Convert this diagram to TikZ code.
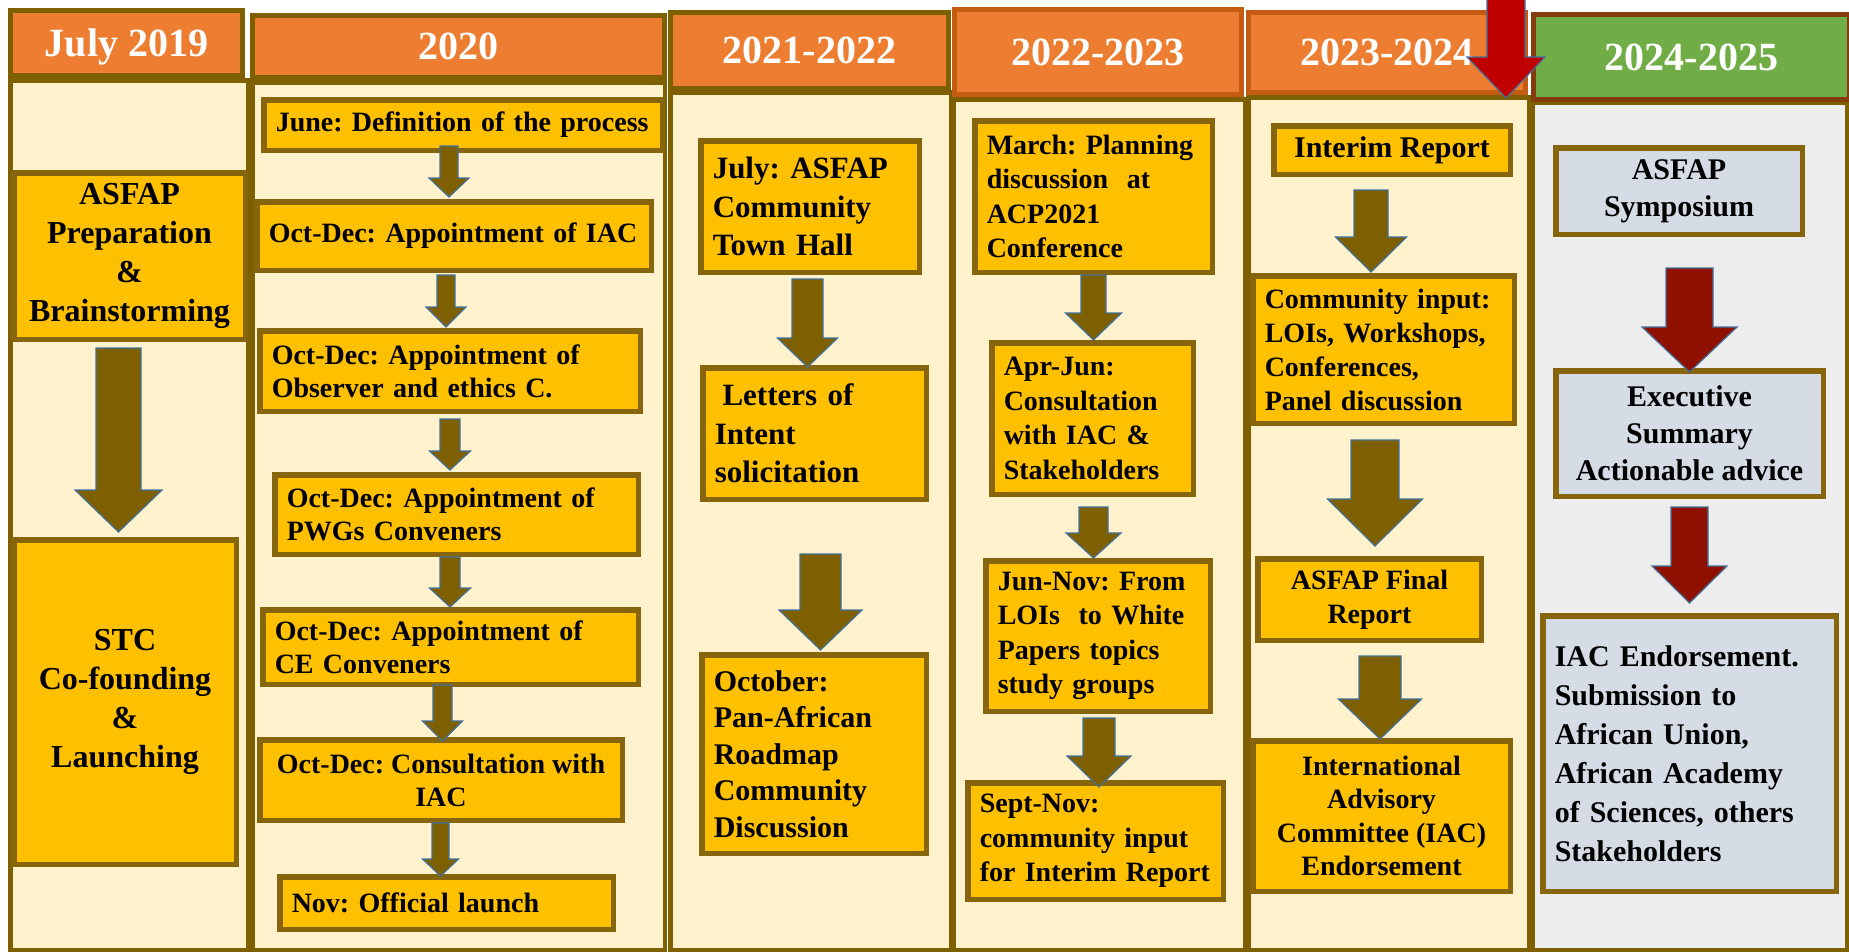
\documentclass[tikz,border=0pt]{standalone}
\usepackage{fontspec}
\setmainfont{Liberation Serif}
\frenchspacing

\definecolor{hdrorange}{HTML}{ED7D31}
\definecolor{hdrgreen}{HTML}{70AD47}
\definecolor{colcream}{HTML}{FFF2CC}
\definecolor{colgray}{HTML}{EDEDED}
\definecolor{boxgold}{HTML}{FFC000}
\definecolor{boxblue}{HTML}{D6DCE5}
\definecolor{frameolive}{HTML}{7F6000}
\definecolor{boxline}{HTML}{86650C}
\definecolor{orangeline}{HTML}{C55A11}
\definecolor{brownline}{HTML}{843C0C}
\definecolor{arrowblue}{HTML}{41719C}
\definecolor{redtop}{HTML}{C00000}
\definecolor{reddark}{HTML}{901000}

\newcommand{\blockarrow}[7]{\filldraw[#1] (#2-#6,#3) -- (#2+#6,#3) -- (#2+#6,#4) -- (#2+#7,#4) -- (#2,#5) -- (#2-#7,#4) -- (#2-#6,#4) -- cycle;}

\begin{document}
\begin{tikzpicture}[x=1pt, y=-1pt,
	col/.style={draw=frameolive, line width=4.5pt, fill=colcream, inner sep=0pt},
	hdr/.style={draw=frameolive, line width=5pt, fill=hdrorange, text=white, inner sep=0pt, text depth=0pt, font=\fontsize{40}{48}\selectfont\bfseries},
	box/.style={draw=boxline, line width=5.5pt, fill=boxgold, inner xsep=12pt, inner ysep=2pt},
	lbox/.style={box, align=left},
	cbox/.style={box, align=center},
	fs/.style 2 args={font=\fontsize{#1}{#2}\selectfont\bfseries},
	arr/.style={fill=frameolive, draw=arrowblue, line width=1.2pt}]
	\useasboundingbox (0,0) rectangle (1849,951);
	\fill[white] (0,0) rectangle (1849,951);

	\node[col, minimum width=237.5pt, minimum height=869.5pt] (b1) at (129,515) {};
	\node[col, minimum width=412.5pt, minimum height=867.5pt] (b2) at (458.5,516) {};
	\node[col, minimum width=280.5pt, minimum height=857.5pt] (b3) at (810.5,521) {};
	\node[col, minimum width=291.5pt, minimum height=850.5pt] (b4) at (1099,524.5) {};
	\node[col, minimum width=280.5pt, minimum height=852.5pt] (b5) at (1388.5,523.5) {};
	\node[col, fill=colgray, minimum width=314.5pt, minimum height=847.5pt] (b6) at (1689.5,526) {};

	\node[hdr, minimum width=232pt, minimum height=65pt] (h1) at (126.5,43) {July 2019};
	\node[hdr, minimum width=412pt, minimum height=62pt] (h2) at (458.5,46.5) {2020};
	\node[hdr, minimum width=278pt, minimum height=76pt] (h3) at (809.5,50.5) {2021-2022};
	\node[hdr, draw=orangeline, minimum width=287pt, minimum height=85pt] (h4) at (1098,52) {2022-2023};
	\node[hdr, draw=orangeline, minimum width=277pt, minimum height=80pt] (h5) at (1387,52.5) {2023-2024};
	\node[hdr, draw=brownline, fill=hdrgreen, minimum width=316pt, minimum height=85pt] (h6) at (1691.5,57) {2024-2025};

	\node[cbox, fs={32}{39}, minimum width=231.5pt, minimum height=166.5pt] (prep) at (129.5,256) {ASFAP\\Preparation\\\&\\Brainstorming};
	\node[cbox, fs={32}{39}, minimum width=222.5pt, minimum height=324.5pt] (stc) at (125,702) {STC\\Co-founding\\\&\\Launching};

	\node[lbox, fs={28}{33}, text width=374.5pt, minimum height=50.5pt] (june) at (463,125) {June: Definition of the process};
	\node[lbox, fs={28}{33}, text width=370.5pt, minimum height=68.5pt] (iac) at (454,236) {Oct-Dec: Appointment of IAC};
	\node[lbox, fs={28}{33}, text width=356.5pt, minimum height=80.5pt] (obs) at (450,371) {Oct-Dec: Appointment of\\Observer and ethics C.};
	\node[lbox, fs={28}{33}, text width=339.5pt, minimum height=79.5pt] (pwg) at (456.5,514.5) {Oct-Dec: Appointment of\\PWGs Conveners};
	\node[lbox, fs={28}{33}, text width=351.5pt, minimum height=74.5pt] (ce) at (450.5,647) {Oct-Dec: Appointment of\\CE Conveners};
	\node[cbox, fs={28}{33}, minimum width=362.5pt, minimum height=80.5pt] (cons) at (441,780) {Oct-Dec: Consultation with\\IAC};
	\node[lbox, fs={28}{33}, text width=309.5pt, minimum height=52.5pt] (nov) at (446.5,903) {Nov: Official launch};

	\node[lbox, fs={31}{38.5}, text width=194.5pt, minimum height=131.5pt] (july) at (810,206.5) {July: ASFAP\\Community\\Town Hall};
	\node[lbox, fs={31}{38.5}, text width=199.5pt, minimum height=131.5pt] (loi) at (814.5,433.5) {\hspace{0.25em}Letters of\\Intent\\solicitation};
	\node[lbox, fs={30}{36.5}, text width=200.5pt, minimum height=198.5pt] (oct) at (814,754) {October:\\Pan-African\\Roadmap\\Community\\Discussion};

	\node[lbox, fs={28}{34.5}, text width=213.5pt, minimum height=151.5pt] (mar) at (1093.5,196.5) {March: Planning\\discussion~ at\\ACP2021\\Conference};
	\node[lbox, fs={28}{34.5}, text width=177.5pt, minimum height=151.5pt] (apr) at (1092.5,418.5) {Apr-Jun:\\Consultation\\with IAC \&\\Stakeholders};
	\node[lbox, fs={28}{34.5}, text width=200.5pt, minimum height=150.5pt] (jun) at (1098,636) {Jun-Nov: From\\LOIs~ to White\\Papers topics\\study groups};
	\node[lbox, fs={28}{34.5}, text width=231.5pt, minimum height=116.5pt] (sep) at (1095.5,841) {Sept-Nov:\\community input\\for Interim Report};

	\node[cbox, fs={30}{36}, minimum width=236.5pt, minimum height=48.5pt] (int) at (1392,150) {Interim Report};
	\node[lbox, fs={28}{34}, text width=237.5pt, minimum height=147.5pt] (com) at (1383.5,349.5) {Community input:\\LOIs, Workshops,\\Conferences,\\Panel discussion};
	\node[cbox, fs={28}{34}, minimum width=223.5pt, minimum height=81.5pt] (fin) at (1369.5,599.5) {ASFAP Final\\Report};
	\node[cbox, fs={28}{33.5}, minimum width=257.5pt, minimum height=150.5pt] (intl) at (1381.5,816) {International\\Advisory\\Committee (IAC)\\Endorsement};

	\node[cbox, fill=boxblue, fs={30}{37}, minimum width=246.5pt, minimum height=86.5pt] (sym) at (1679,191) {ASFAP\\Symposium};
	\node[cbox, fill=boxblue, fs={30}{37}, minimum width=267.5pt, minimum height=125.5pt] (exe) at (1689.5,433.5) {Executive\\Summary\\Actionable advice};
	\node[lbox, fill=boxblue, fs={30}{39}, text width=269.5pt, minimum height=275.5pt] (end) at (1689.5,753.5) {IAC Endorsement.\\Submission to\\African Union,\\African Academy\\of Sciences, others\\Stakeholders};

	\blockarrow{arr}{118.5}{348}{490}{532}{22.5}{43.5}
	\blockarrow{arr}{449}{146}{178}{197}{9}{20}
	\blockarrow{arr}{446}{275}{307}{327}{9}{20}
	\blockarrow{arr}{450}{419}{451}{470}{10}{20.5}
	\blockarrow{arr}{450}{557}{588}{607}{10}{20.5}
	\blockarrow{arr}{442.5}{685}{721}{741}{9.5}{20}
	\blockarrow{arr}{440.5}{823}{859}{876}{8.5}{18}
	\blockarrow{arr}{807.5}{279}{338}{367}{15.5}{30}
	\blockarrow{arr}{820.5}{554}{610}{650}{20.5}{41.5}
	\blockarrow{arr}{1093.5}{275}{313}{340}{12.5}{28}
	\blockarrow{arr}{1093.5}{507}{533}{558}{14.5}{27.5}
	\blockarrow{arr}{1099}{718}{756}{787}{16}{32}
	\blockarrow{arr}{1371}{190}{237}{272}{17}{35.5}
	\blockarrow{arr}{1375}{440}{499}{546}{24}{47.5}
	\blockarrow{arr}{1380}{656}{699}{739}{21}{41.5}
	\blockarrow{arr, fill=reddark}{1689.5}{268}{327}{372}{23.5}{47.5}
	\blockarrow{arr, fill=reddark}{1689.5}{507}{566}{603}{18.5}{37.5}
	\blockarrow{arr, fill=redtop}{1506}{-5}{57}{98}{19}{39}
\end{tikzpicture}
\end{document}
